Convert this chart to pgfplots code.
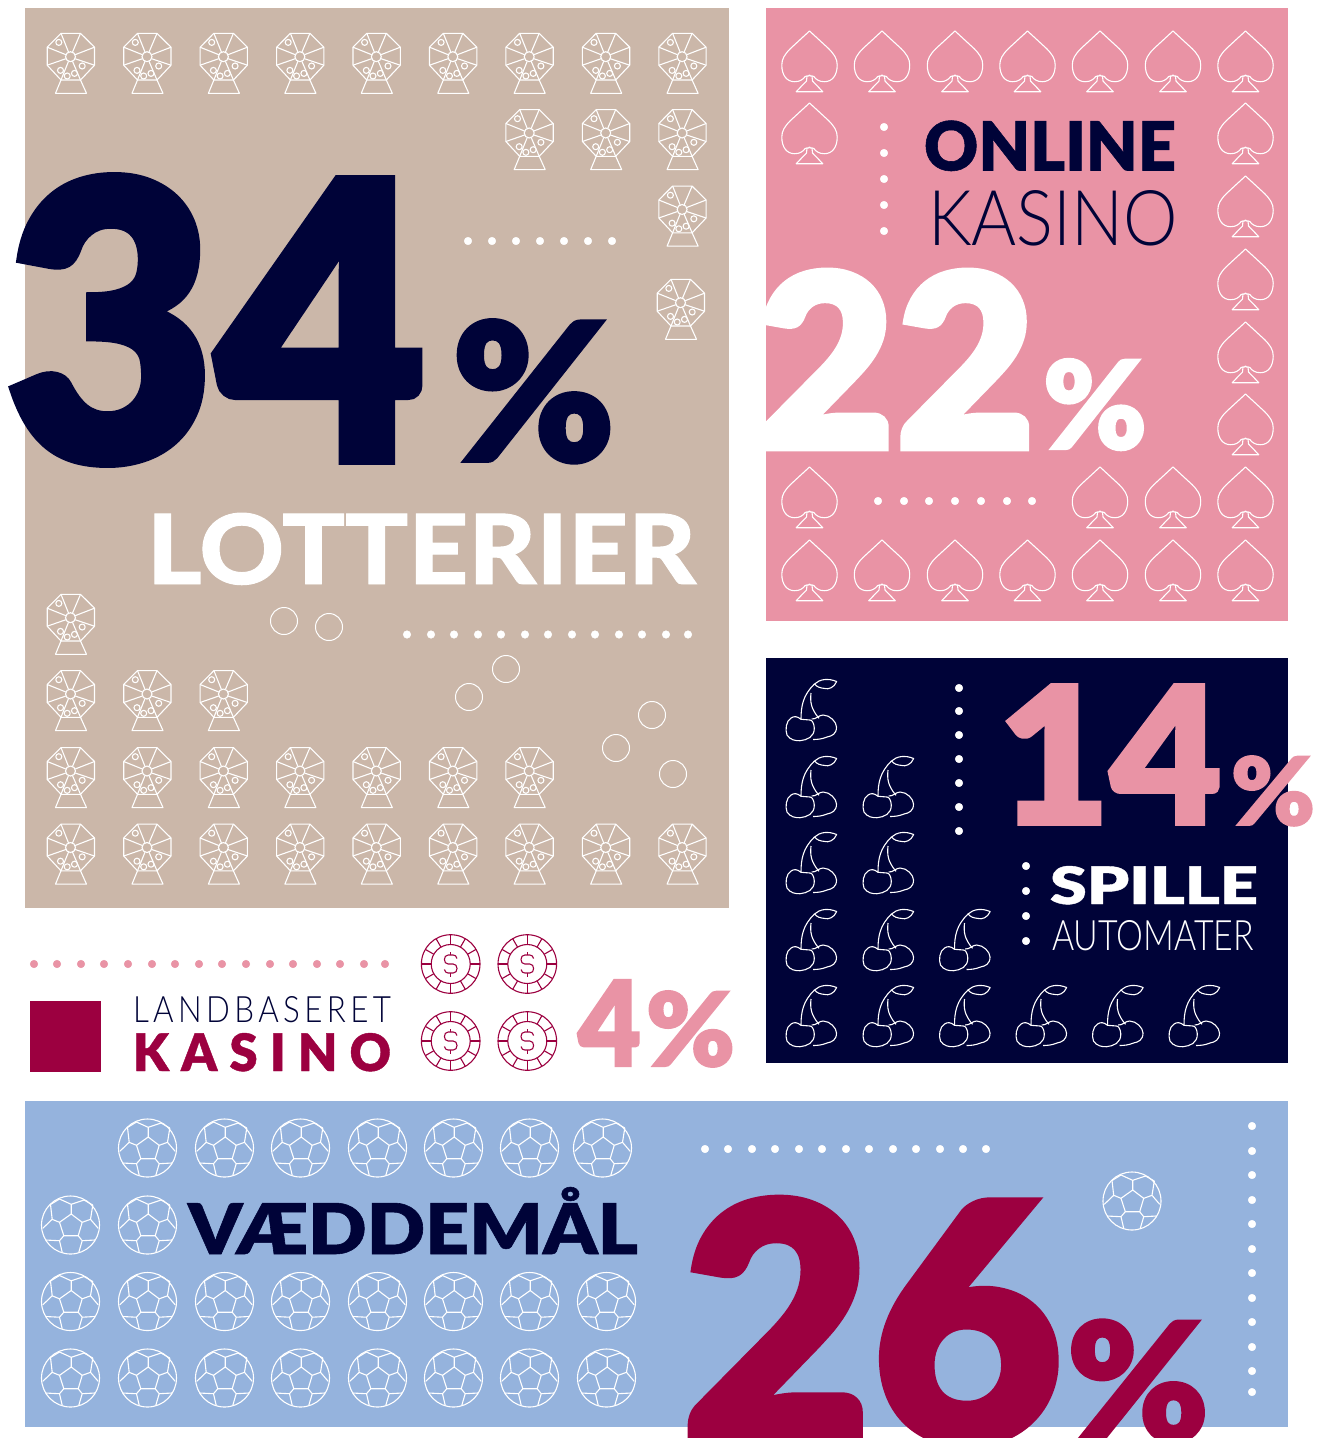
\documentclass[border=0pt]{standalone}
\usepackage{graphicx}
\usepackage{fontspec}
\usepackage{pgfplots}
\pgfplotsset{compat=1.18}
\setmainfont{Open Sans}
\newfontfamily\heavy[FakeBold=2]{Lato Black}
\newfontfamily\semi[FakeBold=0.8]{Lato Black}
\newfontfamily\boldf[FakeBold=1]{Lato Heavy}
\newfontfamily\light{Lato Light}
\newfontfamily\lightsp[LetterSpace=14]{Lato Light}
\newfontfamily\boldsp[LetterSpace=24,FakeBold=0.8]{Lato Black}

\definecolor{beige}{HTML}{CBB7A9}
\definecolor{rosa}{HTML}{E993A5}
\definecolor{navy}{HTML}{000338}
\definecolor{himmel}{HTML}{95B3DD}
\definecolor{krims}{HTML}{9C0040}

\tikzset{ic/.style={x=1pt,y=1pt,line width=1.1pt,line join=round}}

% lottery wheel, origin at the hub
\pgfdeclareplotmark{wheel}{%
  \draw[ic,white] (-9.5,23.4)--(10,23.4)--(24,9.5)--(24,-8.5)--(10,-23.3)--(-9.5,-23.3)--(-23.3,-8.5)--(-23.3,9.5)--cycle;
  \draw[ic,white] (0,0) circle[radius=5pt];
  \draw[ic,white] (-9.5,23.4)--(-2,4.6) (10,23.4)--(2,4.6) (24,9.5)--(4.6,2) (24,-8.5)--(4.6,-2)
    (10,-23.3)--(2,-4.6) (-9.5,-23.3)--(-2,-4.6) (-23.3,-8.5)--(-4.6,-2) (-23.3,9.5)--(-4.6,2);
  \draw[ic,white] (-9.5,-23.3)--(-15,-36.6)--(16,-36.6)--(10,-23.3);
  \draw[ic,white] (-11.7,14.3) circle[radius=3pt] (-10,-13.7) circle[radius=3pt] (-3.3,-19.3) circle[radius=3pt]
    (4,-16.7) circle[radius=3pt] (11.7,-9.3) circle[radius=3pt];
}
% spade
\pgfdeclareplotmark{spade}{%
  \draw[ic,white] (0,30)--(-19,12.5) .. controls (-25,6.5) and (-27.7,2) .. (-27.7,-4)
    .. controls (-27.7,-14) and (-23,-20.7) .. (-15,-20.7)
    .. controls (-10,-20.7) and (-7,-19) .. (-4.3,-15.5) -- (-2.7,-15)
    -- (-1,-15) -- (0,-14) -- (1,-15) -- (2.7,-15)
    -- (4.3,-15.5) .. controls (7,-19) and (10,-20.7) .. (15,-20.7)
    .. controls (23,-20.7) and (27.7,-14) .. (27.7,-4)
    .. controls (27.7,2) and (25,6.5) .. (19,12.5) -- cycle;
  \draw[ic,white] (-2.5,-15)--(-3,-20)--(-13.3,-30.7)--(13.3,-30.7)--(3,-20)--(2.5,-15);
}
% cherries
\pgfdeclareplotmark{cherry}{%
  \draw[ic,white] (-9,-9.3) .. controls (-13,-6) and (-16,-6) .. (-19,-8)
    .. controls (-24,-11) and (-25,-20) .. (-23,-25)
    .. controls (-20,-30) and (-14,-31) .. (-10,-30.7)
    .. controls (-3,-30) and (4.5,-27) .. (4.3,-18)
    .. controls (4,-13) and (2,-10) .. (0,-10)
    -- (-9,-9.3);
  \draw[ic,white] (1.7,-9) .. controls (6,-9.5) and (9,-5) .. (13,-5)
    .. controls (20,-5) and (26.5,-12) .. (26.5,-17)
    .. controls (26.5,-24) and (22,-26) .. (17,-27)
    .. controls (12,-29) and (8,-29.5) .. (3,-29.5);
  \draw[ic,white] (-9,-9.3) .. controls (-9,4) and (-7,15) .. (4.5,26);
  \draw[ic,white] (1,17) .. controls (0,8) and (1,1) .. (9,-8.3);
  \draw[ic,white] (4.5,26) .. controls (10,31) and (18,32) .. (26.7,28.5)
    .. controls (24,22) and (18,20.5) .. (15,21.5)
    .. controls (10,22) and (7,23) .. (4.5,26) -- cycle;
}
% casino chip
\pgfdeclareplotmark{chip}{%
  \draw[ic,krims] (0,0) circle[radius=29.3pt] (0,0) circle[radius=19.5pt];
  \foreach \a in {0,30,...,330}{\draw[ic,krims] (\a:19.5pt)--(\a:29.3pt);}
  \draw[ic,krims] (6.3,5.5) .. controls (6,8) and (4,9) .. (2.5,9) -- (-2.5,9)
    .. controls (-5,9) and (-6.3,7) .. (-6.3,4.5) .. controls (-6.3,2) and (-5,0) .. (-2.5,0)
    -- (2.5,0) .. controls (5,0) and (6.3,-2) .. (6.3,-4.5)
    .. controls (6.3,-7) and (5,-9) .. (2.5,-9) -- (-2.5,-9)
    .. controls (-4,-9) and (-6,-8) .. (-6.3,-5.5);
  \draw[ic,krims] (0,9)--(0,12.5) (0,-9)--(0,-12.5);
}
% football
\pgfdeclareplotmark{ball}{%
  \draw[ic,white] (0,0) circle[radius=29pt];
  \draw[ic,white] (0.7,11)--(11.7,2.7)--(7.7,-10.7)--(-6.7,-10.7)--(-11,2.7)--cycle;
  \draw[ic,white] (0.7,11)--(0.7,20.7) (-11,26)--(0.7,20.7)--(13.5,25)
    (-11,2.7)--(-18.3,5.7)--(-27.7,-3.3) (-18.3,5.7)--(-20,20.5)
    (-20,20.5)--(-11,26)
    (11.7,2.7)--(20,5.7)--(27.7,-3.3) (20,5.7)--(22.3,20) (22.3,20)--(13.5,25)
    (-6.7,-10.7)--(-11,-15.7)--(-8.3,-27.3) (7.7,-10.7)--(11.7,-15.7)--(8.3,-27.3)
    (-11,-15.7)--(-25,-15) (11.7,-15.7)--(24.3,-15);
}

% x, baseline y, width, height, colour, font, text
\newcommand{\txt}[7]{\node[anchor=base west,inner sep=0pt,outer sep=0pt,text=#5] at (axis cs:#1,#2)
  {\resizebox{#3pt}{#4pt}{\fontsize{100}{100}\selectfont#6#7}};}

\begin{document}
\begin{tikzpicture}
\begin{axis}[
    scale only axis,
    width=1323pt,
    height=1438pt,
    xmin=0, xmax=1323,
    ymin=0, ymax=1438,
    y dir=reverse,
    hide axis,
    clip=true,
]
% panels
\addplot[fill=white,draw=none] coordinates {(0,0) (1323,0) (1323,1438) (0,1438)} --cycle;
\addplot[fill=beige,draw=none] coordinates {(25,8) (729,8) (729,908) (25,908)} --cycle;
\addplot[fill=rosa,draw=none] coordinates {(766,8) (1288,8) (1288,621) (766,621)} --cycle;
\addplot[fill=navy,draw=none] coordinates {(766,658) (1288,658) (1288,1063) (766,1063)} --cycle;
\addplot[fill=himmel,draw=none] coordinates {(25,1101) (1288,1101) (1288,1427) (25,1427)} --cycle;
\addplot[fill=krims,draw=none] coordinates {(30,1001) (101,1001) (101,1072) (30,1072)} --cycle;

% lotteries
\addplot[only marks,mark=wheel] coordinates {
 (70.5,56.7) (147,56.7) (223.4,56.7) (299.9,56.7) (376.3,56.7) (452.8,56.7) (529.2,56.7) (605.7,56.7) (682.1,56.7)
 (529.2,133) (605.7,133) (682.1,133)
 (682.1,209.5) (680.5,302.7)
 (70.5,617.7)
 (70.5,694) (147,694) (223.4,694)
 (70.5,771) (147,771) (223.4,771) (299.9,771) (376.3,771) (452.8,771) (529.2,771)
 (70.5,847.5) (147,847.5) (223.4,847.5) (299.9,847.5) (376.3,847.5) (452.8,847.5) (529.2,847.5) (605.7,847.5) (682.1,847.5)
};
\addplot[only marks,mark=o,mark size=13.5pt,mark options={draw=white,line width=1pt,fill=none}] coordinates {
 (284,621) (329,627) (506,669) (469,697) (652,715) (616,748) (673,774)
};
% online casino
\addplot[only marks,mark=spade] coordinates {
 (809.5,61) (882,61) (955,61) (1027.5,61) (1100,61) (1173,61) (1245.5,61)
 (809.5,133) (1245.5,133) (1245.5,206) (1245.5,279) (1245.5,352) (1245.5,424)
 (809.5,497) (1100,497) (1173,497) (1245.5,497)
 (809.5,570) (882,570) (955,570) (1027.5,570) (1100,570) (1173,570) (1245.5,570)
};
% slot machines
\addplot[only marks,mark=cherry] coordinates {
 (810,710)
 (810,787) (887,787)
 (810,863) (887,863)
 (810,940) (887,940) (963.5,940)
 (810,1016) (887,1016) (963.5,1016) (1040,1016) (1116.5,1016) (1193,1016)
};
% land based casino
\addplot[only marks,mark=chip] coordinates {(450.7,964) (527.3,964) (450.7,1041) (527.3,1041)};
% betting
\addplot[only marks,mark=ball] coordinates {
 (147.5,1148) (224.5,1148) (300.5,1148) (377.5,1148) (453.5,1148) (529.5,1148) (602.5,1148)
 (70.5,1225) (147.5,1225)
 (70.5,1301.5) (147.5,1301.5) (224.5,1301.5) (300.5,1301.5) (377.5,1301.5) (453.5,1301.5) (529.5,1301.5) (606.5,1301.5)
 (70.5,1378) (147.5,1378) (224.5,1378) (300.5,1378) (377.5,1378) (453.5,1378) (529.5,1378) (606.5,1378)
 (1132,1201)
};

% dotted rules
\addplot[only marks,mark=*,mark size=3.8pt,mark options={draw=white,fill=white}] coordinates {
 (468,241) (492,241) (516,241) (540,241) (564,241) (588,241) (612,241)
 (407,634.5) (431,634.5) (454,634.5) (478,634.5) (501,634.5) (525,634.5) (548,634.5) (572,634.5) (595,634.5) (619,634.5) (642,634.5) (666,634.5) (688,634.5)
 (884,127) (884,153) (884,179) (884,205) (884,231)
 (878,501) (904,501) (929,501) (955,501) (981,501) (1007,501) (1032,501)
 (959,688) (959,711) (959,735) (959,759) (959,783) (959,807) (959,831)
 (1026,866) (1026,891) (1026,916) (1026,941)
 (705,1149) (728,1149) (752,1149) (775,1149) (799,1149) (822,1149) (846,1149) (869,1149) (893,1149) (916,1149) (940,1149) (963,1149) (986,1149)
 (1252,1126) (1252,1151) (1252,1175) (1252,1200) (1252,1224) (1252,1249) (1252,1273) (1252,1298) (1252,1322) (1252,1347) (1252,1371) (1252,1392)
};
\addplot[only marks,mark=*,mark size=3.8pt,mark options={draw=rosa,fill=rosa}] coordinates {
 (34,964) (57,964) (81,964) (104,964) (128,964) (152,964) (175,964) (199,964) (222,964) (246,964) (270,964) (293,964) (317,964) (340,964) (364,964) (385,964)
};

% text
\txt{4}{461}{423}{285}{navy}{\heavy}{34}
\txt{452}{461}{163}{141}{navy}{\heavy}{\%}
\txt{147}{584}{549}{71}{white}{\boldf}{LOTTERIER}
\txt{924}{170.5}{252}{50}{navy}{\semi}{ONLINE}
\txt{928}{245}{250}{55}{navy}{\light}{KASINO}
\txt{755}{449}{281}{179}{white}{\heavy}{22}
\txt{1043}{449}{104}{90}{white}{\heavy}{\%}
\txt{998}{824}{224}{139}{rosa}{\heavy}{14}
\txt{1231}{825}{84}{69}{rosa}{\heavy}{\%}
\txt{1050}{904}{208}{38}{white}{\semi}{SPILLE}
\txt{1052}{950}{202}{30}{white}{\light}{AUTOMATER}
\txt{133}{1022}{258}{26}{navy}{\lightsp}{LANDBASERET}
\txt{133}{1071}{258}{38}{krims}{\boldsp}{KASINO}
\txt{578}{1066}{63}{86}{rosa}{\heavy}{4}
\txt{646}{1066}{89}{75}{rosa}{\heavy}{\%}
\txt{188}{1254}{450}{67}{navy}{\semi}{VÆDDEMÅL}
\txt{681}{1442}{382}{244}{krims}{\heavy}{26}
\txt{1067}{1441}{142}{121}{krims}{\heavy}{\%}
\end{axis}
\end{tikzpicture}
\end{document}
